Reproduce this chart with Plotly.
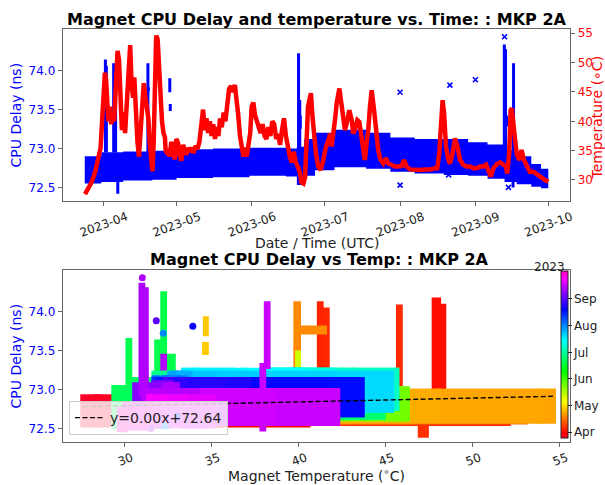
import numpy as np
import pandas as pd
import plotly.graph_objects as go

REF_DATE = "2023-04-01"

# Magnet temperature samples (days since 2023-04-01, degC)
temp_days = [-7.7, -6.5, -5.0, -3.5, -2.2, -1.3, -0.6, 0.0, 0.5, 1.0, 1.4, 1.9, 2.5, 3.1, 3.7, 4.3,
             5.0, 5.7, 6.3, 6.9, 7.5, 8.2, 8.8, 9.5, 10.2, 10.9, 11.5, 12.1, 12.6, 13.2, 13.9, 14.5,
             15.2, 15.9, 16.5, 17.2, 17.8, 18.4, 19.0, 19.6, 20.1, 20.6, 21.1, 21.6, 22.2, 22.8,
             23.4, 24.0, 24.6, 25.2, 25.5, 25.8, 26.5, 27.2, 27.8, 28.5, 29.2, 29.9, 30.6, 31.3,
             32.0, 32.7, 33.4, 34.1, 34.8, 35.5, 36.3, 37.0, 37.8, 38.6, 39.4, 40.2, 40.9, 41.6,
             42.3, 43.0, 43.7, 44.4, 45.1, 45.8, 46.5, 47.2, 47.9, 48.6, 49.4, 50.1, 50.8, 51.6,
             52.4, 53.2, 54.0, 54.7, 55.4, 56.1, 56.8, 57.5, 58.2, 58.9, 59.6, 60.3, 60.9, 61.6,
             62.3, 63.0, 63.8, 64.6, 65.4, 66.2, 67.0, 67.8, 68.6, 69.4, 70.2, 71.0, 71.8, 72.6,
             73.4, 74.2, 75.0, 75.8, 76.6, 77.4, 78.2, 79.0, 79.8, 80.6, 81.4, 82.2, 82.9, 83.5,
             84.1, 84.6, 85.3, 86.0, 86.7, 87.4, 88.3, 89.3, 90.4, 91.5, 92.5, 93.2, 93.8, 94.5,
             95.2, 95.9, 97.0, 98.0, 98.6, 99.3, 100.0, 101.1, 102.1, 102.7, 103.4, 104.4, 105.2,
             106.2, 106.9, 107.5, 108.2, 108.9, 109.6, 110.3, 111.3, 112.1, 113.0, 114.0, 115.1,
             116.2, 117.2, 118.5, 119.9, 121.3, 122.7, 123.6, 124.7, 126.1, 128.1, 130.2, 132.2,
             134.3, 136.4, 137.3, 138.1, 138.7, 139.5, 140.1, 140.9, 141.9, 142.5, 143.6, 144.6,
             145.6, 146.7, 148.0, 149.4, 150.8, 152.1, 153.5, 154.9, 156.3, 157.4, 158.3, 159.3,
             160.4, 161.8, 163.1, 164.5, 165.6, 166.1, 166.9, 167.5, 168.0, 168.9, 170.0, 171.1,
             172.0, 173.0, 174.1, 175.4, 176.8, 178.2, 179.6, 181.6, 183.0]
temp_vals = [27.6, 28.4, 29.6, 31.4, 33.6, 35.4, 40.5, 46.5, 48.3, 47.0, 41.0, 40.0, 42.5, 39.5, 41.0, 40.0,
             46.0, 52.0, 50.5, 43.0, 38.5, 41.5, 38.0, 43.0, 48.5, 53.0, 46.0, 44.0, 47.5, 41.0, 36.5, 34.0,
             38.5, 41.5, 46.5, 44.0, 42.5, 40.5, 36.0, 32.0, 31.5, 37.0, 46.0, 54.6, 54.0, 48.0,
             42.5, 40.0, 38.0, 37.3, 35.0, 34.8, 35.3, 34.0, 36.5, 35.5, 33.5, 37.0, 36.3, 34.0,
             33.3, 36.0, 35.0, 34.3, 35.5, 34.8, 35.5, 34.6, 35.8, 35.3, 36.5, 40.0, 42.0, 38.5,
             40.5, 38.0, 40.0, 37.5, 39.5, 37.0, 39.0, 37.5, 40.5, 39.0, 41.5, 40.0, 42.0, 45.5,
             46.0, 45.0, 46.2, 44.0, 41.0, 37.5, 35.0, 34.0, 35.5, 34.0, 36.0, 38.0, 42.5, 43.2,
             41.0, 40.0, 39.0, 38.0, 39.5, 37.5, 37.0, 39.0, 37.5, 40.0, 39.5, 37.0, 37.8, 36.0,
             38.5, 40.5, 37.5, 35.5, 34.0, 33.0, 34.8, 33.2, 32.5, 31.5, 29.6, 29.4, 30.5, 38.5,
             42.5, 43.5, 44.8, 40.5, 37.0, 34.5, 32.3, 31.7, 33.4, 35.7, 36.8, 37.9, 35.7, 37.4,
             40.2, 43.1, 45.6, 42.5, 40.2, 38.5, 39.6, 41.9, 40.2, 37.9, 38.5, 40.2, 39.9,
             36.8, 34.0, 33.4, 36.2, 38.5, 42.5, 45.3, 41.9, 37.9, 35.1, 33.4, 32.8,
             33.7, 32.8, 32.6, 32.3, 32.3, 32.4, 33.4, 32.3, 31.8, 31.7, 31.7, 31.8,
             31.8, 32.0, 32.0, 34.5, 40.2, 43.6, 41.4, 35.7, 33.4, 32.8, 34.5, 37.1,
             35.7, 33.4, 32.6, 32.3, 32.3, 32.0, 32.0, 32.3, 32.3, 32.6, 31.7, 30.6,
             32.0, 32.7, 33.0, 32.7, 32.3, 31.1, 34.5, 41.9, 42.2, 38.5, 34.5, 33.4,
             35.1, 33.4, 32.3, 31.4, 31.4, 31.1, 30.6, 30.0, 29.7]

# CPU delay band (ns): start day of each period, lower / upper envelope
band_start_days = [-7.8, -1.0, 8, 20, 30, 45, 60, 75, 79.5, 82.5, 87, 95, 108, 118, 128, 140,
                   150, 158, 165, 170, 176, 180]
band_lo = [72.55, 72.57, 72.59, 72.60, 72.62, 72.63, 72.65, 72.64, 72.53, 72.65, 72.72, 72.76,
           72.74, 72.70, 72.68, 72.66, 72.65, 72.61, 72.57, 72.54, 72.51, 72.49]
band_hi = [72.90, 72.95, 72.96, 72.97, 72.99, 73.00, 73.01, 73.00, 73.02, 73.12, 73.20, 73.24,
           73.20, 73.14, 73.12, 73.12, 73.08, 73.05, 72.98, 72.90, 72.80, 72.74]
BAND_END_DAY = 183.0

# CPU delay excursions: day, temperature range, CPU range
spike_days = [0.7, 1.1, 4.1, 4.5, 4.9, 5.8, 18.2, 18.4, 27.2, 27.4, 41.2, 80.2, 80.5, 80.7, 80.9,
              164.9, 165.4, 165.8, 168.5, 168.7]
spike_t0 = [47.8, 48.2, 41.2, 41.55, 45.75, 47.0, 39.85, 39.9, 34.65, 34.6, 39.95, 32.2, 31.85, 30.2,
            32.5, 30.95, 31.15, 32.2, 37.9, 38.15]
spike_t1 = [48.0, 48.3, 41.25, 41.6, 45.8, 47.3, 39.95, 41.45, 34.65, 34.65, 39.95, 32.25, 31.9, 30.25,
            32.75, 31.0, 31.2, 32.25, 37.95, 38.2]
spike_lo = [72.95, 72.95, 72.95, 72.95, 72.95, 72.42, 72.95, 73.74, 73.72, 73.48, 73.32, 72.95, 72.95,
            72.95, 73.25, 72.95, 72.95, 73.28, 72.50, 73.30]
spike_hi = [74.14, 74.06, 74.09, 74.01, 74.05, 72.60, 74.09, 73.78, 73.90, 73.57, 73.46, 74.22, 73.60,
            73.62, 73.42, 74.33, 74.27, 73.42, 73.30, 74.09]

# isolated CPU delay points
outlier_days = [122.0, 122.0, 142.5, 142.0, 153.0, 165.0, 166.6]
outlier_cpu = [73.72, 72.53, 73.81, 72.66, 73.88, 74.43, 72.50]
outlier_temp = [32.2, 32.3, 33.9, 33.0, 31.8, 31.0, 31.5]

REG_SLOPE = 0.0049
REG_INTERCEPT = 72.644

COLOR_MIN_DAY = -6.5
COLOR_MAX_DAY = 185.0
cb_tick_days = [0, 30, 61, 91, 122, 153]
cb_tick_text = ["Apr", "May", "Jun", "Jul", "Aug", "Sep"]

cpu_ticks = [72.5, 73.0, 73.5, 74.0]

# ---------------------------------------------------------------
W, H = 605, 485
FONT = "DejaVu Sans"
ref = pd.Timestamp(REF_DATE)


def to_date(d):
    return ref + pd.to_timedelta(np.asarray(d, dtype=float), unit="D")


def px(x):
    return x / W


def py(y):
    return 1 - y / H


gist_rainbow = [[0.0, "rgb(255,0,41)"], [0.03, "rgb(255,0,0)"], [0.215, "rgb(255,255,0)"],
                [0.4, "rgb(0,255,0)"], [0.586, "rgb(0,255,255)"], [0.77, "rgb(0,0,255)"],
                [0.954, "rgb(255,0,255)"], [1.0, "rgb(255,0,191)"]]

fig = go.Figure()

# ---- top: band ----
bx = to_date(list(band_start_days) + [BAND_END_DAY])
blo = list(band_lo) + [band_lo[-1]]
bhi = list(band_hi) + [band_hi[-1]]
fig.add_trace(go.Scatter(x=bx, y=blo, mode="lines", line=dict(width=0, color="blue", shape="hv"),
                         showlegend=False, hoverinfo="skip", xaxis="x", yaxis="y"))
fig.add_trace(go.Scatter(x=bx, y=bhi, mode="lines", line=dict(width=0, color="blue", shape="hv"),
                         fill="tonexty", fillcolor="blue", showlegend=False, hoverinfo="skip",
                         xaxis="x", yaxis="y"))

# spikes
sx, sy = [], []
for d, lo, hi in zip(spike_days, spike_lo, spike_hi):
    dd = to_date([d])[0]
    sx += [dd, dd, None]
    sy += [lo, hi, None]
fig.add_trace(go.Scatter(x=sx, y=sy, mode="lines", line=dict(width=3, color="blue"),
                         showlegend=False, hoverinfo="skip", xaxis="x", yaxis="y"))
fig.add_trace(go.Scatter(x=to_date(outlier_days), y=outlier_cpu, mode="markers",
                         marker=dict(symbol="x-thin", size=5, line=dict(width=1.6, color="blue")),
                         showlegend=False, hoverinfo="skip", xaxis="x", yaxis="y"))

# temperature
fig.add_trace(go.Scatter(x=to_date(temp_days), y=temp_vals, mode="lines",
                         line=dict(width=4.5, color="red"), showlegend=False, hoverinfo="skip",
                         xaxis="x", yaxis="y2"))

# ---- bottom: delay vs temperature, coloured by date ----
band_idx = np.searchsorted(np.array(band_start_days), np.array(temp_days), side="right") - 1
band_idx = np.clip(band_idx, 0, len(band_lo) - 1)
items = []
T_PAD, C_PAD = 0.34, 0.038
for i in range(len(temp_days) - 1):
    t0, t1 = temp_vals[i], temp_vals[i + 1]
    k = band_idx[i]
    items.append(((temp_days[i] + temp_days[i + 1]) / 2, (t0 + t1) / 2, abs(t1 - t0) + T_PAD,
                  band_lo[k] - C_PAD, band_hi[k] - band_lo[k] + 2 * C_PAD))
for d, a, b, lo, hi in zip(spike_days, spike_t0, spike_t1, spike_lo, spike_hi):
    items.append((d, (a + b) / 2, (b - a) + T_PAD, lo - C_PAD, hi - lo + 2 * C_PAD))
items.sort(key=lambda r: r[0])
cdays = [r[0] for r in items]
fig.add_trace(go.Bar(
    x=[r[1] for r in items], width=[r[2] for r in items], base=[r[3] for r in items],
    y=[r[4] for r in items], xaxis="x2", yaxis="y3", showlegend=False, hoverinfo="skip",
    marker=dict(color=cdays, colorscale=gist_rainbow, cmin=COLOR_MIN_DAY, cmax=COLOR_MAX_DAY,
                line=dict(width=0),
                colorbar=dict(x=px(561), xanchor="left", xref="paper", y=py(354.25), yanchor="middle",
                              yref="paper", len=166.5 / H, lenmode="fraction", thickness=6.5,
                              xpad=0, ypad=0, outlinewidth=1, outlinecolor="#222",
                              tickvals=cb_tick_days, ticktext=cb_tick_text, ticks="outside",
                              ticklen=3.5, tickcolor="#222",
                              tickfont=dict(family=FONT, size=12, color="#222"))),
))
fig.add_trace(go.Scatter(x=outlier_temp, y=outlier_cpu, mode="markers", xaxis="x2", yaxis="y3",
                         marker=dict(size=7, color=outlier_days, colorscale=gist_rainbow,
                                     cmin=COLOR_MIN_DAY, cmax=COLOR_MAX_DAY, line=dict(width=0)),
                         showlegend=False, hoverinfo="skip"))

tx = np.array([min(temp_vals), max(temp_vals)])
fig.add_trace(go.Scatter(x=tx, y=REG_SLOPE * tx + REG_INTERCEPT, mode="lines", xaxis="x2", yaxis="y3",
                         line=dict(color="black", width=1.4, dash="5px,2.5px"),
                         name=f"y={REG_SLOPE:.2f}x+{REG_INTERCEPT:.2f}", showlegend=True,
                         hoverinfo="skip"))

LINE = "#666"
xdom = [px(62.7), px(570.3)]
common = dict(showline=True, linecolor=LINE, linewidth=1, ticks="outside", ticklen=4, tickcolor=LINE,
              showgrid=False, zeroline=False, automargin=False)

fig.update_layout(
    width=W, height=H, margin=dict(l=0, r=0, t=0, b=0), paper_bgcolor="white", plot_bgcolor="white",
    barmode="overlay", font=dict(family=FONT, size=12, color="#222"),
    xaxis=dict(domain=xdom, anchor="y", type="date",
               range=[to_date([-16.876])[0], to_date([192.06])[0]],
               tick0=REF_DATE, dtick="M1", tickformat="%Y-%m", tickangle=-20, ticklabelshift=23,
               mirror=True, tickfont=dict(size=12, color="#222"), **common),
    yaxis=dict(domain=[py(200.7), py(29.3)], anchor="x", range=[72.33, 74.526],
               tickvals=cpu_ticks, ticktext=[f"{v:.1f}" for v in cpu_ticks],
               tickfont=dict(size=12, color="blue"), **common),
    yaxis2=dict(overlaying="y", side="right", anchor="x", range=[26.47, 55.68], tick0=0, dtick=5,
                tickfont=dict(size=12, color="red"), **common),
    xaxis2=dict(domain=xdom, anchor="y3", range=[26.42, 55.6], tick0=0, dtick=5, tickangle=-20,
                ticklabelshift=7, mirror=True, tickfont=dict(size=12, color="#222"), **common),
    yaxis3=dict(domain=[py(441.7), py(270)], anchor="x2", range=[72.33, 74.53], mirror=True,
                tickvals=cpu_ticks, ticktext=[f"{v:.1f}" for v in cpu_ticks],
                tickfont=dict(size=12, color="blue"), **common),
    legend=dict(x=px(69), y=py(435), xanchor="left", yanchor="bottom",
                bgcolor="rgba(255,255,255,0.8)", bordercolor="#cccccc", borderwidth=1,
                font=dict(family=FONT, size=14, color="#222")),
)

ann = [
    dict(text="<b>Magnet CPU Delay and temperature vs. Time: : MKP 2A</b>", x=px(317), y=py(19.2),
         size=16, color="black"),
    dict(text="<b>Magnet CPU Delay vs Temp: : MKP 2A</b>", x=px(319), y=py(259.2), size=16,
         color="black"),
    dict(text="Date / Time (UTC)", x=px(316.5), y=py(243), size=14, color="#222"),
    dict(text="Magnet Temperature (<sup>∘</sup>C)", x=px(316.5), y=py(475), size=14, color="#222"),
    dict(text="CPU Delay (ns)", x=px(15.5), y=py(115), size=14, color="blue", angle=-90),
    dict(text="CPU Delay (ns)", x=px(15.5), y=py(356), size=14, color="blue", angle=-90),
    dict(text="Temperature (∘C)", x=px(596.5), y=py(118), size=14, color="red", angle=-90),
]
for a in ann:
    fig.add_annotation(text=a["text"], x=a["x"], y=a["y"], xref="paper", yref="paper",
                       xanchor="center", yanchor="middle", showarrow=False, textangle=a.get("angle", 0),
                       font=dict(family=FONT, size=a["size"], color=a["color"]))
fig.add_annotation(text="2023", x=px(567), y=py(266.5), xref="paper", yref="paper", xanchor="right",
                   yanchor="middle", showarrow=False, font=dict(family=FONT, size=12, color="#222"))

fig.write_html("out.html", config={"displayModeBar": False},
               post_script="document.body.style.margin='0';document.body.style.overflow='hidden';")
